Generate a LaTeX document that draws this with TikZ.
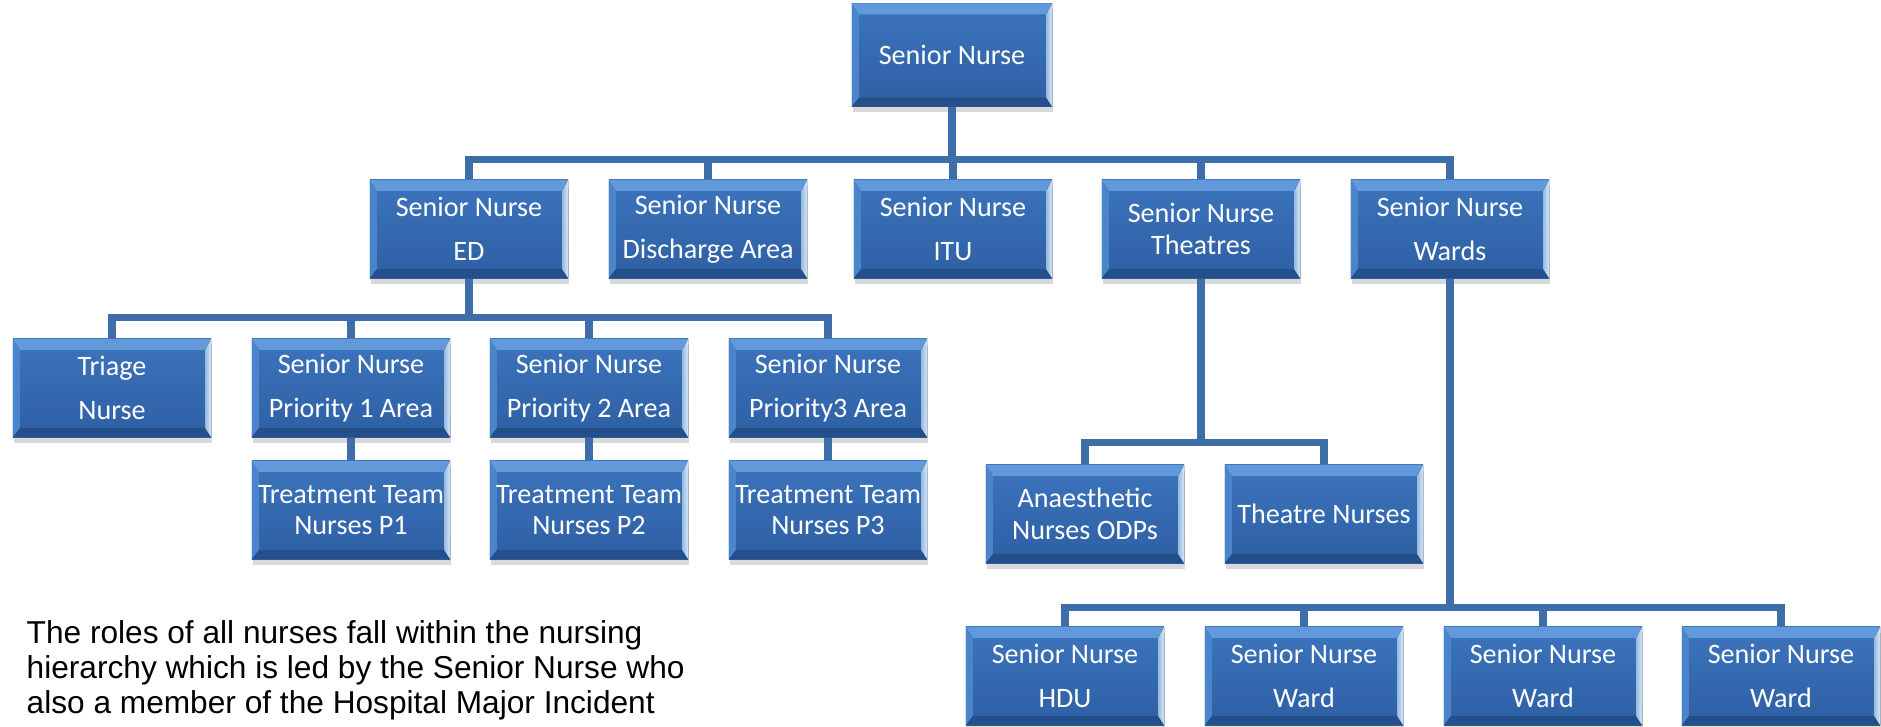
\documentclass[tikz,border=0pt]{standalone}
\usepackage{fontspec}
\setmainfont{Liberation Sans}
\newfontfamily\boxfont{Carlito}
\usepackage{xcolor}
\definecolor{cFaceTop}{HTML}{3C74BD}
\definecolor{cFaceBot}{HTML}{2E5FA3}
\definecolor{cBevTop}{HTML}{6199DA}
\definecolor{cBevLeft}{HTML}{4A84CB}
\definecolor{cBevRight}{HTML}{D3E8F9}
\definecolor{cBevBot}{HTML}{254F8A}
\definecolor{cLine}{HTML}{3F6DA8}
\usepackage{tikz}
\usetikzlibrary{positioning,calc,shadows}
\tikzset{
  node-org/.style={rectangle,minimum width=1.98cm,minimum height=0.98cm,
    inner sep=0pt,align=center,text=white,
    font=\boxfont\fontsize{8}{12.5}\selectfont,
    top color=cFaceTop,bottom color=cFaceBot,
    drop shadow={shadow xshift=0.4pt,shadow yshift=-1.6pt,opacity=0.3},
    path picture={
      \coordinate (pp-nw) at (path picture bounding box.north west);
      \coordinate (pp-ne) at (path picture bounding box.north east);
      \coordinate (pp-se) at (path picture bounding box.south east);
      \coordinate (pp-sw) at (path picture bounding box.south west);
      \coordinate (in-nw) at ($(pp-nw)+(0.07cm,-0.11cm)$);
      \coordinate (in-ne) at ($(pp-ne)+(-0.06cm,-0.11cm)$);
      \coordinate (in-se) at ($(pp-se)+(-0.06cm,0.09cm)$);
      \coordinate (in-sw) at ($(pp-sw)+(0.07cm,0.09cm)$);
      \fill[cBevTop]  (pp-nw) -- (pp-ne) -- (in-ne) -- (in-nw) -- cycle;
      \fill[cBevLeft] (pp-nw) -- (in-nw) -- (in-sw) -- (pp-sw) -- cycle;
      \fill[cBevBot]  (pp-sw) -- (in-sw) -- (in-se) -- (pp-se) -- cycle;
      \fill[left color=cBevRight!60!cFaceTop,right color=cBevRight]
        (pp-ne) -- (pp-se) -- (in-se) -- (in-ne) -- cycle;
    }},
  node-org-tight/.style={font=\boxfont\fontsize{8}{9}\selectfont},
  link/.style={draw=cLine,line width=2pt},
  link-elbow/.style={link,to path={-- ++(0,#1) -| (\tikztotarget)}},
}

\begin{document}
\begin{tikzpicture}[x=0.01cm,y=-0.01cm]
  \useasboundingbox (0,0) rectangle (1881,726);
  \clip (0,0) rectangle (1881,726);
  % level 1 and 2
  \node[node-org,minimum width=2cm,minimum height=1.03cm] (sn) at (952,55) {Senior Nurse};
  \node[node-org] (ed)  at (469,229)  {Senior Nurse\\ED};
  \node[node-org] (dis) at (708,229)  {Senior Nurse\\Discharge Area};
  \node[node-org] (itu) at (953,229)  {Senior Nurse\\ITU};
  \node[node-org,node-org-tight] (th) at (1201,229) {Senior Nurse\\Theatres};
  \node[node-org] (wd)  at (1450,229) {Senior Nurse\\Wards};
  % ED
  \node[node-org] (tri) at (112,388) {Triage\\Nurse};
  \node[node-org] (p1)  at (351,388) {Senior Nurse\\Priority 1 Area};
  \node[node-org] (p2)  at (589,388) {Senior Nurse\\Priority 2 Area};
  \node[node-org] (p3)  at (828,388) {Senior Nurse\\Priority3 Area};
  \node[node-org,node-org-tight] (tt1) at (351,510) {Treatment Team\\Nurses P1};
  \node[node-org,node-org-tight] (tt2) at (589,510) {Treatment Team\\Nurses P2};
  \node[node-org,node-org-tight] (tt3) at (828,510) {Treatment Team\\Nurses P3};
  % theatres
  \node[node-org,node-org-tight] (an) at (1085,514) {Anaesthetic\\Nurses ODPs};
  \node[node-org] (tn) at (1324,514) {Theatre Nurses};
  % wards
  \node[node-org] (hdu) at (1065,676) {Senior Nurse\\HDU};
  \node[node-org] (w1)  at (1304,676) {Senior Nurse\\Ward};
  \node[node-org] (w2)  at (1543,676) {Senior Nurse\\Ward};
  \node[node-org] (w3)  at (1781,676) {Senior Nurse\\Ward};

  \foreach \n in {ed,dis,itu,th,wd}
    \draw[link-elbow=52] (sn.south) to (\n.north);
  \foreach \n in {tri,p1,p2,p3}
    \draw[link-elbow=39] (ed.south) to (\n.north);
  \foreach \n in {1,2,3}
    \draw[link] (p\n.south) -- (tt\n.north);
  \foreach \n in {an,tn}
    \draw[link-elbow=164] (th.south) to (\n.north);
  \foreach \n in {hdu,w1,w2,w3}
    \draw[link-elbow=329] (wd.south) to (\n.north);

  \node[anchor=west,align=left,inner sep=0pt,font=\fontsize{9}{10}\selectfont] (note) at (26,670)
    {The roles of all nurses fall within the nursing\\
     hierarchy which is led by the Senior Nurse who\\
     also a member of the Hospital Major Incident};
\end{tikzpicture}
\end{document}
